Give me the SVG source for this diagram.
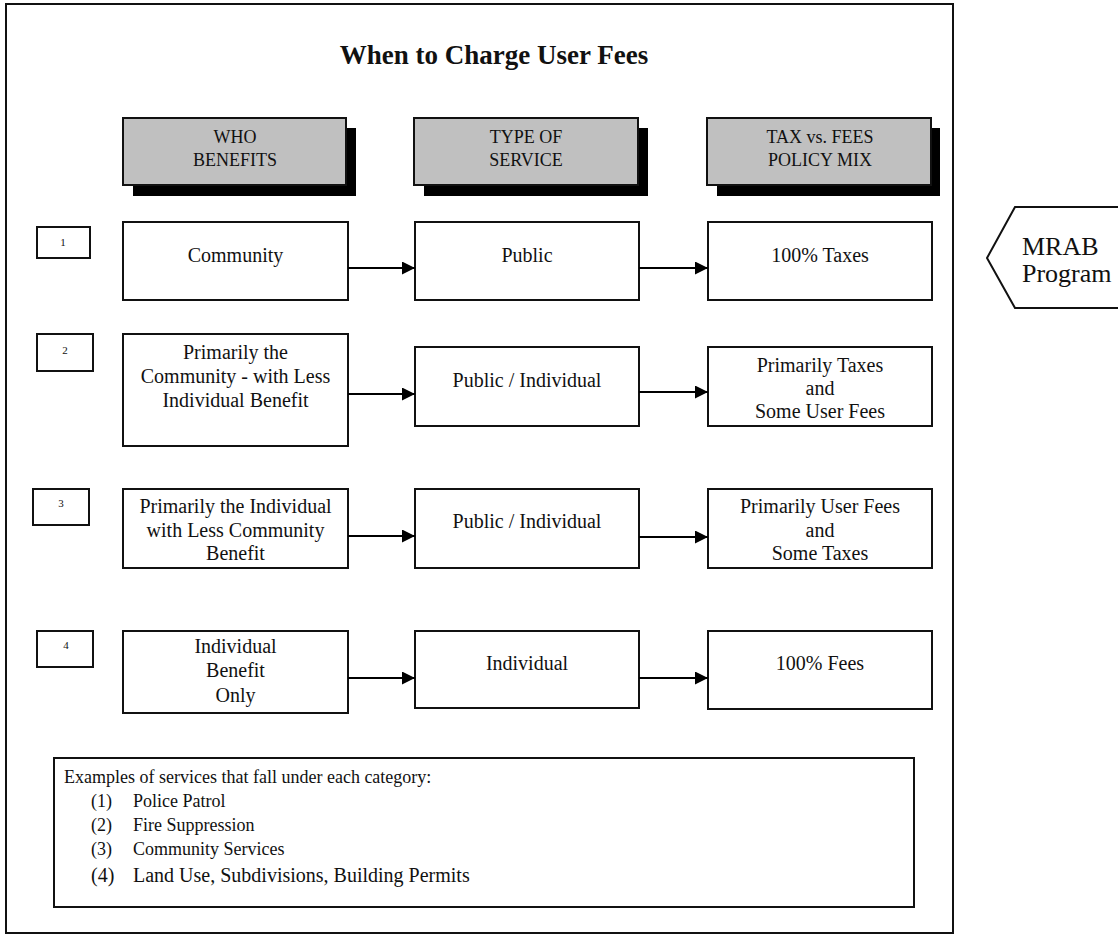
<svg xmlns="http://www.w3.org/2000/svg" width="1118" height="934" viewBox="0 0 1118 934">
<style>
text{font-family:"Liberation Serif","Times New Roman",serif;fill:#111}
.box{fill:#fff;stroke:#111;stroke-width:2}
.hdr{fill:#c0c0c0;stroke:#111;stroke-width:2}
.sh{fill:#000}
.t{font-size:20px;text-anchor:middle}
.h{font-size:18px;text-anchor:middle}
.n{font-size:11px;text-anchor:middle}
.c{stroke:#000;stroke-width:2;fill:none;marker-end:url(#ah)}
.ex{font-size:18px}
</style>
<defs>
<marker id="ah" markerUnits="userSpaceOnUse" markerWidth="14" markerHeight="14" refX="13" refY="6.5" orient="auto">
<path d="M0,0 L13,6.5 L0,13 z" fill="#000"/>
</marker>
</defs>
<rect width="1118" height="934" fill="#fff"/>
<rect id="frame" x="6" y="4" width="947" height="929" fill="none" stroke="#111" stroke-width="2"/>
<text id="title" x="494" y="64" font-size="27" font-weight="bold" text-anchor="middle">When to Charge User Fees</text>

<g id="hdr1"><rect class="sh" x="133" y="128" width="223" height="68"/><rect class="hdr" x="123" y="118" width="223" height="67"/><text class="h" x="235" y="143">WHO</text><text class="h" x="235" y="166">BENEFITS</text></g>
<g id="hdr2"><rect class="sh" x="424" y="128" width="224" height="68"/><rect class="hdr" x="414" y="118" width="224" height="67"/><text class="h" x="526" y="143">TYPE OF</text><text class="h" x="526" y="166">SERVICE</text></g>
<g id="hdr3"><rect class="sh" x="717" y="128" width="223" height="68"/><rect class="hdr" x="707" y="118" width="224" height="67"/><text class="h" x="820" y="143">TAX vs. FEES</text><text class="h" x="820" y="166">POLICY MIX</text></g>

<g id="num1"><rect class="box" x="37" y="227" width="53" height="31"/><text class="n" x="63" y="246">1</text></g>
<g id="num2"><rect class="box" x="37" y="334" width="56" height="37"/><text class="n" x="65" y="354">2</text></g>
<g id="num3"><rect class="box" x="33" y="489" width="56" height="36"/><text class="n" x="61" y="507">3</text></g>
<g id="num4"><rect class="box" x="37" y="631" width="56" height="36"/><text class="n" x="66" y="649">4</text></g>

<g id="r1a"><rect class="box" x="123" y="222" width="225" height="78"/><text class="t" x="235.5" y="262">Community</text></g>
<g id="r1b"><rect class="box" x="415" y="222" width="224" height="78"/><text class="t" x="527" y="262">Public</text></g>
<g id="r1c"><rect class="box" x="708" y="222" width="224" height="78"/><text class="t" x="820" y="262">100% Taxes</text></g>

<g id="r2a"><rect class="box" x="123" y="334" width="225" height="112"/><text class="t" x="235.5" y="359">Primarily the</text><text class="t" x="235.5" y="383">Community - with Less</text><text class="t" x="235.5" y="407">Individual Benefit</text></g>
<g id="r2b"><rect class="box" x="415" y="347" width="224" height="79"/><text class="t" x="527" y="387">Public / Individual</text></g>
<g id="r2c"><rect class="box" x="708" y="347" width="224" height="79"/><text class="t" x="820" y="372">Primarily Taxes</text><text class="t" x="820" y="395">and</text><text class="t" x="820" y="418">Some User Fees</text></g>

<g id="r3a"><rect class="box" x="123" y="489" width="225" height="79"/><text class="t" x="235.5" y="513">Primarily the Individual</text><text class="t" x="235.5" y="537">with Less Community</text><text class="t" x="235.5" y="560">Benefit</text></g>
<g id="r3b"><rect class="box" x="415" y="489" width="224" height="79"/><text class="t" x="527" y="528">Public / Individual</text></g>
<g id="r3c"><rect class="box" x="708" y="489" width="224" height="79"/><text class="t" x="820" y="513">Primarily User Fees</text><text class="t" x="820" y="537">and</text><text class="t" x="820" y="560">Some Taxes</text></g>

<g id="r4a"><rect class="box" x="123" y="631" width="225" height="82"/><text class="t" x="235.5" y="653">Individual</text><text class="t" x="235.5" y="677">Benefit</text><text class="t" x="235.5" y="702">Only</text></g>
<g id="r4b"><rect class="box" x="415" y="631" width="224" height="77"/><text class="t" x="527" y="670">Individual</text></g>
<g id="r4c"><rect class="box" x="708" y="631" width="224" height="78"/><text class="t" x="820" y="670">100% Fees</text></g>

<g id="connectors">
<line class="c" x1="348" y1="268" x2="415" y2="268"/>
<line class="c" x1="639" y1="268" x2="708" y2="268"/>
<line class="c" x1="348" y1="394" x2="415" y2="394"/>
<line class="c" x1="639" y1="392" x2="708" y2="392"/>
<line class="c" x1="348" y1="536" x2="415" y2="536"/>
<line class="c" x1="639" y1="537" x2="708" y2="537"/>
<line class="c" x1="348" y1="678" x2="415" y2="678"/>
<line class="c" x1="639" y1="678" x2="708" y2="678"/>
</g>

<g id="examples"><rect class="box" x="54" y="758" width="860" height="149"/>
<text class="ex" x="64" y="783">Examples of services that fall under each category:</text>
<text class="ex" x="91" y="807">(1)</text><text class="ex" x="133" y="807">Police Patrol</text>
<text class="ex" x="91" y="831">(2)</text><text class="ex" x="133" y="831">Fire Suppression</text>
<text class="ex" x="91" y="855">(3)</text><text class="ex" x="133" y="855">Community Services</text>
<text x="91" y="882" font-size="20">(4)</text><text x="133" y="882" font-size="20">Land Use, Subdivisions, Building Permits</text>
</g>

<g id="mrab"><path d="M1120,207 L1015,207 L987,258 L1015,308 L1120,308" fill="#fff" stroke="#111" stroke-width="2"/>
<text x="1022" y="255" font-size="26">MRAB</text><text x="1022" y="282" font-size="26">Program</text></g>
</svg>
